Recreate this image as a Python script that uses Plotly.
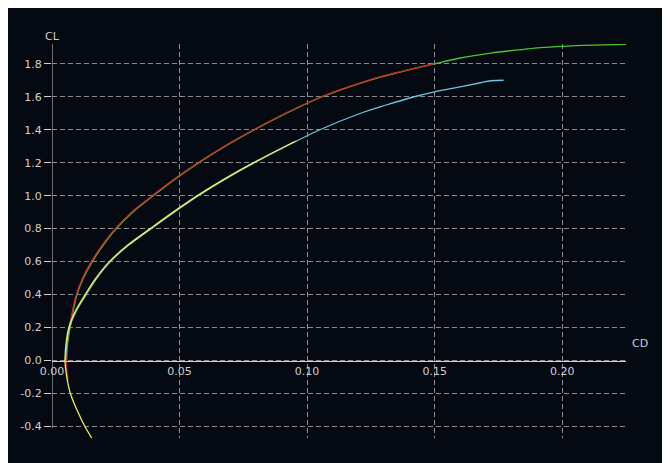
import plotly.graph_objects as go

# ---- data ----
red_cd = [0.0063, 0.0057, 0.0055, 0.0058, 0.0068, 0.0080, 0.0095, 0.0120, 0.0154, 0.0197, 0.0248,
          0.0312, 0.0393, 0.0478, 0.0572, 0.0675, 0.0790, 0.0915, 0.1055, 0.1240, 0.1360, 0.1495]
red_cl = [-0.12, -0.05, 0.0, 0.1, 0.2, 0.3, 0.4, 0.5, 0.6, 0.7, 0.8,
          0.9, 1.0, 1.1, 1.2, 1.3, 1.4, 1.5, 1.6, 1.7, 1.75, 1.8]

green_cd = [0.0057, 0.0061, 0.0071, 0.0083, 0.0098, 0.0123, 0.0158, 0.0201, 0.0252, 0.0316, 0.0397,
            0.0482, 0.0576, 0.0679, 0.0794, 0.0919, 0.1059, 0.1244, 0.1364, 0.1500, 0.1600, 0.1720,
            0.1850, 0.1915, 0.2000, 0.2120, 0.2250]
green_cl = [0.0, 0.1, 0.2, 0.3, 0.4, 0.5, 0.6, 0.7, 0.8, 0.9, 1.0,
            1.1, 1.2, 1.3, 1.4, 1.5, 1.6, 1.7, 1.75, 1.8, 1.835, 1.865,
            1.888, 1.898, 1.906, 1.913, 1.918]

yellow_cd = [0.0156, 0.0129, 0.0098, 0.0072, 0.0058, 0.0051, 0.0055, 0.0066, 0.0092, 0.0130, 0.0172,
             0.0225, 0.0297, 0.0385, 0.0475, 0.0570, 0.0675, 0.0790, 0.0915, 0.0955]
yellow_cl = [-0.47, -0.40, -0.30, -0.20, -0.10, 0.0, 0.1, 0.2, 0.3, 0.4, 0.5,
             0.6, 0.7, 0.8, 0.9, 1.0, 1.1, 1.2, 1.3, 1.33]

cyan_cd = [0.0053, 0.0058, 0.0069, 0.0095, 0.0134, 0.0176, 0.0229, 0.0301, 0.0389, 0.0479, 0.0574,
           0.0679, 0.0794, 0.0918, 0.1050, 0.1210, 0.1310, 0.1420, 0.1500, 0.1600, 0.1680, 0.1720, 0.1770]
cyan_cl = [0.0, 0.1, 0.2, 0.3, 0.4, 0.5, 0.6, 0.7, 0.8, 0.9, 1.0,
           1.1, 1.2, 1.3, 1.4, 1.5, 1.55, 1.6, 1.63, 1.66, 1.685, 1.697, 1.70]

x_tickvals = [0.0, 0.05, 0.10, 0.15, 0.20]
x_ticktext = ["0.00", "0.05", "0.10", "0.15", "0.20"]
y_tickvals = [-0.4, -0.2, 0.0, 0.2, 0.4, 0.6, 0.8, 1.0, 1.2, 1.4, 1.6, 1.8]
y_ticktext = ["-0.4", "-0.2", "0.0", "0.2", "0.4", "0.6", "0.8", "1.0", "1.2", "1.4", "1.6", "1.8"]

# ---- styling ----
BG = "#040912"
GRID = "#8a8c92"
AXIS = "#d2d2d2"
TXT = "#d0d0d0"
FONT = "DejaVu Sans"

W, H = 670, 463
ML, MR, MT, MB = 42, 52, 36, 33
XR = [0.0, 0.225]
YR = [-0.47, 1.92]

fig = go.Figure()
series = [
    (green_cd, green_cl, "#4fc232"),
    (red_cd, red_cl, "#d42222"),
    (cyan_cd, cyan_cl, "#6fc6de"),
    (yellow_cd, yellow_cl, "#eeee55"),
]
for xs, ys, col in series:
    fig.add_trace(go.Scatter(x=xs, y=ys, mode="lines", line=dict(color=col, width=1.3),
                             line_shape="spline", showlegend=False, hoverinfo="skip"))

# y axis line (stops just below the lowest tick)
fig.add_shape(type="line", xref="x", yref="y", x0=0, x1=0, y0=-0.41, y1=YR[1],
              line=dict(color=AXIS, width=1))

xpos = (0 - YR[0]) / (YR[1] - YR[0])
fig.update_xaxes(range=XR, tickvals=x_tickvals, ticktext=x_ticktext,
                 showgrid=True, gridcolor=GRID, griddash="5px,3px", gridwidth=1,
                 showline=True, linecolor=AXIS, linewidth=1, zeroline=False,
                 anchor="free", position=xpos, ticks="",
                 tickfont=dict(family=FONT, size=11, color=TXT))
fig.update_yaxes(range=YR, tickvals=y_tickvals, ticktext=y_ticktext,
                 showgrid=True, gridcolor=GRID, griddash="5px,3px", gridwidth=1,
                 showline=False, zeroline=False,
                 ticks="outside", ticklen=7, tickcolor=AXIS, tickwidth=1,
                 tickfont=dict(family=FONT, size=11, color=TXT))

fig.add_annotation(text="CL", xref="x", x=0, yref="paper", y=1, xanchor="center",
                   yanchor="middle", yshift=8, showarrow=False,
                   font=dict(family=FONT, size=11, color=TXT))
fig.add_annotation(text="CD", xref="paper", x=1, yref="y", y=0, xanchor="left",
                   yanchor="middle", xshift=4, yshift=17, showarrow=False,
                   font=dict(family=FONT, size=11, color=TXT))

fig.update_layout(width=W, height=H, margin=dict(l=ML, r=MR, t=MT, b=MB, pad=0),
                  paper_bgcolor=BG, plot_bgcolor=BG, showlegend=False)

fig.write_html("out.html")
